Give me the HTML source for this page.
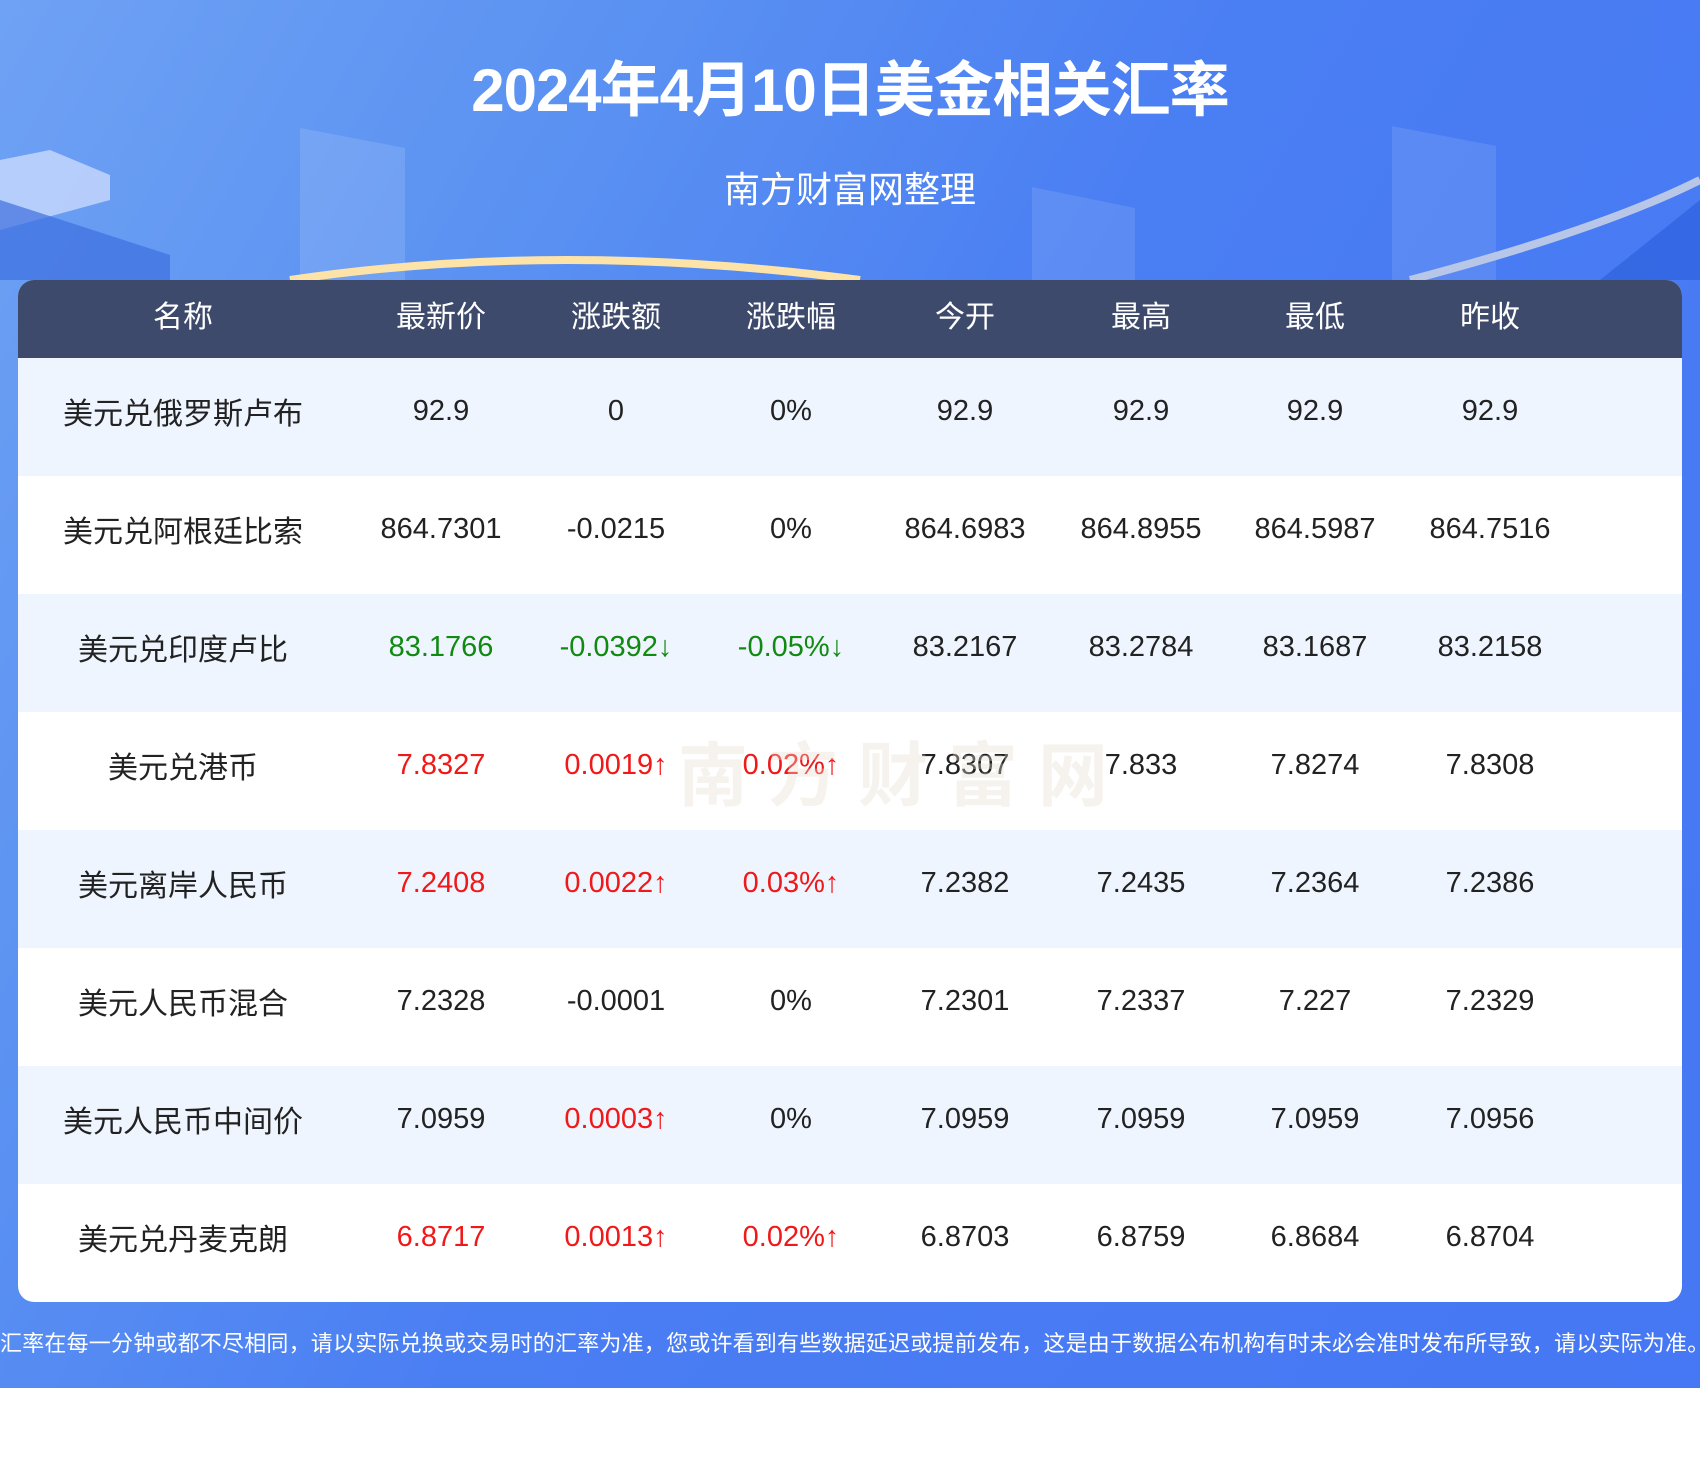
<!DOCTYPE html>
<html><head><meta charset="utf-8"><style>
*{margin:0;padding:0;box-sizing:border-box}
body{width:1700px;height:1470px;background:#fff;position:relative;overflow:hidden;font-family:"Liberation Sans","Noto Sans CJK SC",sans-serif}
#bg{position:absolute;left:0;top:0;width:1700px;height:1388px;background:linear-gradient(120deg,#6fa2f4 0%,#5b92f2 25%,#4a7ef3 50%,#4677f4 100%)}
#title{position:absolute;top:42px;width:1700px;text-align:center;color:#fff;font-size:60px;font-weight:bold;letter-spacing:-1px}
#sub{position:absolute;top:161px;width:1700px;text-align:center;color:#fff;font-size:36px}
#card{position:absolute;left:18px;top:280px;width:1664px;height:1022px;background:#fff;border-radius:16px;overflow:hidden}
.row{position:absolute;left:0;width:1664px;height:118px}
.hd{top:0;height:78px;background:#3e4a6b;color:#fff;font-size:30px}
.c{position:absolute;top:-6px;height:100%;display:flex;align-items:center;justify-content:center;white-space:nowrap;transform:translateX(-50%)}
.hd .c{top:-5px}
.dr{font-size:29px;color:#222}
.alt{background:#eef5fe}
.r{color:#f01818}.g{color:#118a11}
.nm{font-size:30px}
#foot{position:absolute;top:1326px;left:0;width:1700px;text-align:center;color:#fff;font-size:22px;letter-spacing:0.2px;white-space:nowrap}
</style></head><body>
<div id="bg">
<svg width="1700" height="1388" style="position:absolute;left:0;top:0">
<polygon points="0,160 50,150 110,175 110,200 0,230" fill="#c9dafc" opacity="0.8"/>
<polygon points="0,200 170,255 170,280 0,280" fill="#3e6fe0" opacity="0.7"/>
<polygon points="300,128 405,148 405,280 300,280" fill="#ffffff" opacity="0.12"/>
<polygon points="1032,187 1135,208 1135,280 1032,280" fill="#ffffff" opacity="0.1"/>
<polygon points="1392,126 1496,146 1496,280 1392,280" fill="#ffffff" opacity="0.1"/>
<path d="M290,280 Q560,240 860,280" stroke="#fde3a8" stroke-width="8" fill="none"/>
<path d="M1410,280 Q1600,230 1700,180" stroke="#b8c6e8" stroke-width="8" fill="none"/>
<polygon points="1600,280 1700,200 1700,280" fill="#2a5bd8" opacity="0.6"/>
</svg>
</div>
<div id="title">2024年4月10日美金相关汇率</div>
<div id="sub">南方财富网整理</div>
<div id="card">
<div class="row hd"><div class="c" style="left:165px">名称</div><div class="c" style="left:423px">最新价</div><div class="c" style="left:598px">涨跌额</div><div class="c" style="left:773px">涨跌幅</div><div class="c" style="left:947px">今开</div><div class="c" style="left:1123px">最高</div><div class="c" style="left:1297px">最低</div><div class="c" style="left:1472px">昨收</div></div>

<div class="row dr alt" style="top:78px"><div class="c nm" style="left:165px">美元兑俄罗斯卢布</div><div class="c" style="left:423px">92.9</div><div class="c" style="left:598px">0</div><div class="c" style="left:773px">0%</div><div class="c" style="left:947px">92.9</div><div class="c" style="left:1123px">92.9</div><div class="c" style="left:1297px">92.9</div><div class="c" style="left:1472px">92.9</div></div>

<div class="row dr" style="top:196px"><div class="c nm" style="left:165px">美元兑阿根廷比索</div><div class="c" style="left:423px">864.7301</div><div class="c" style="left:598px">-0.0215</div><div class="c" style="left:773px">0%</div><div class="c" style="left:947px">864.6983</div><div class="c" style="left:1123px">864.8955</div><div class="c" style="left:1297px">864.5987</div><div class="c" style="left:1472px">864.7516</div></div>

<div class="row dr alt" style="top:314px"><div class="c nm" style="left:165px">美元兑印度卢比</div><div class="c g" style="left:423px">83.1766</div><div class="c g" style="left:598px">-0.0392↓</div><div class="c g" style="left:773px">-0.05%↓</div><div class="c" style="left:947px">83.2167</div><div class="c" style="left:1123px">83.2784</div><div class="c" style="left:1297px">83.1687</div><div class="c" style="left:1472px">83.2158</div></div>

<div class="row dr" style="top:432px"><div class="c nm" style="left:165px">美元兑港币</div><div class="c r" style="left:423px">7.8327</div><div class="c r" style="left:598px">0.0019↑</div><div class="c r" style="left:773px">0.02%↑</div><div class="c" style="left:947px">7.8307</div><div class="c" style="left:1123px">7.833</div><div class="c" style="left:1297px">7.8274</div><div class="c" style="left:1472px">7.8308</div></div>

<div class="row dr alt" style="top:550px"><div class="c nm" style="left:165px">美元离岸人民币</div><div class="c r" style="left:423px">7.2408</div><div class="c r" style="left:598px">0.0022↑</div><div class="c r" style="left:773px">0.03%↑</div><div class="c" style="left:947px">7.2382</div><div class="c" style="left:1123px">7.2435</div><div class="c" style="left:1297px">7.2364</div><div class="c" style="left:1472px">7.2386</div></div>

<div class="row dr" style="top:668px"><div class="c nm" style="left:165px">美元人民币混合</div><div class="c" style="left:423px">7.2328</div><div class="c" style="left:598px">-0.0001</div><div class="c" style="left:773px">0%</div><div class="c" style="left:947px">7.2301</div><div class="c" style="left:1123px">7.2337</div><div class="c" style="left:1297px">7.227</div><div class="c" style="left:1472px">7.2329</div></div>

<div class="row dr alt" style="top:786px"><div class="c nm" style="left:165px">美元人民币中间价</div><div class="c" style="left:423px">7.0959</div><div class="c r" style="left:598px">0.0003↑</div><div class="c" style="left:773px">0%</div><div class="c" style="left:947px">7.0959</div><div class="c" style="left:1123px">7.0959</div><div class="c" style="left:1297px">7.0959</div><div class="c" style="left:1472px">7.0956</div></div>

<div class="row dr" style="top:904px"><div class="c nm" style="left:165px">美元兑丹麦克朗</div><div class="c r" style="left:423px">6.8717</div><div class="c r" style="left:598px">0.0013↑</div><div class="c r" style="left:773px">0.02%↑</div><div class="c" style="left:947px">6.8703</div><div class="c" style="left:1123px">6.8759</div><div class="c" style="left:1297px">6.8684</div><div class="c" style="left:1472px">6.8704</div></div>

<div style="position:absolute;left:660px;top:440px;font-size:70px;color:#e8dccf;opacity:0.35;font-weight:bold;letter-spacing:20px">南方财富网</div>
</div>
<div id="foot">汇率在每一分钟或都不尽相同，请以实际兑换或交易时的汇率为准，您或许看到有些数据延迟或提前发布，这是由于数据公布机构有时未必会准时发布所导致，请以实际为准。</div>
</body></html>
